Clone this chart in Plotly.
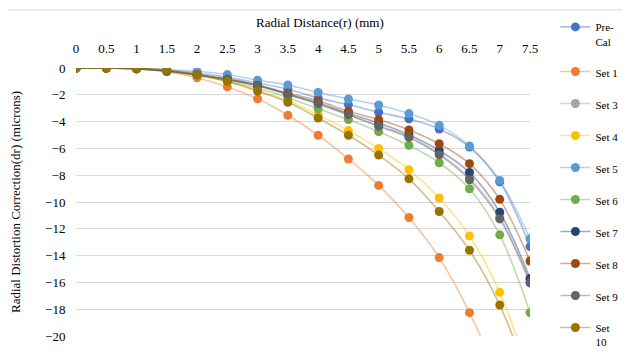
import plotly.graph_objects as go

radius = [0, 0.5, 1, 1.5, 2, 2.5, 3, 3.5, 4, 4.5, 5, 5.5, 6, 6.5, 7, 7.5]

series_names = ["Pre-<br>Cal", "Set 1", "Set 3", "Set 4", "Set 5", "Set 6",
                "Set 7", "Set 8", "Set 9", "Set<br>10"]

pre_cal = [0, 0, -0.05, -0.18, -0.38, -0.70, -1.12, -1.58, -2.23, -2.73, -3.30, -3.80, -4.55, -5.90, -8.50, -13.33]
set_1   = [0, 0, -0.06, -0.28, -0.73, -1.41, -2.30, -3.53, -5.02, -6.79, -8.76, -11.16, -14.15, -18.26, -23.5, -31.0]
set_3   = [0, 0, -0.06, -0.22, -0.50, -0.86, -1.32, -1.98, -2.70, -3.50, -4.30, -5.10, -6.40, -8.20, -11.10, -15.90]
set_4   = [0, 0, -0.07, -0.25, -0.55, -1.00, -1.65, -2.45, -3.50, -4.67, -6.00, -7.59, -9.70, -12.53, -16.74, -23.0]
set_5   = [0, 0, -0.03, -0.12, -0.24, -0.49, -0.91, -1.27, -1.83, -2.31, -2.76, -3.40, -4.28, -5.82, -8.39, -12.75]
set_6   = [0, 0, -0.07, -0.25, -0.55, -0.95, -1.50, -2.20, -3.05, -3.85, -4.75, -5.77, -7.07, -9.01, -12.45, -18.26]
set_7   = [0, 0, -0.06, -0.22, -0.50, -0.85, -1.30, -1.95, -2.60, -3.40, -4.10, -4.98, -6.15, -7.79, -10.76, -15.70]
set_8   = [0, 0, -0.05, -0.20, -0.48, -0.83, -1.28, -1.86, -2.45, -3.23, -3.85, -4.62, -5.65, -7.14, -9.80, -14.40]
set_9   = [0, 0, -0.06, -0.22, -0.50, -0.86, -1.29, -1.98, -2.66, -3.48, -4.35, -5.18, -6.47, -8.34, -11.26, -16.04]
set_10  = [0, 0, -0.02, -0.16, -0.49, -1.01, -1.73, -2.56, -3.73, -5.02, -6.50, -8.27, -10.71, -13.60, -17.69, -23.5]

x_ticks = [0, 0.5, 1, 1.5, 2, 2.5, 3, 3.5, 4, 4.5, 5, 5.5, 6, 6.5, 7, 7.5]
y_ticks = [0, -2, -4, -6, -8, -10, -12, -14, -16, -18, -20]

all_values = [pre_cal, set_1, set_3, set_4, set_5, set_6, set_7, set_8, set_9, set_10]
marker_colors = ["#4472C4", "#ED7D31", "#A5A5A5", "#FFC000", "#5B9BD5",
                 "#70AD47", "#264478", "#9E480E", "#636363", "#997300"]


def faded(hex_color, alpha=0.45):
    h = hex_color.lstrip("#")
    r, g, b = int(h[0:2], 16), int(h[2:4], 16), int(h[4:6], 16)
    return f"rgba({r},{g},{b},{alpha})"


fig = go.Figure()
for i, (name, vals, col) in enumerate(zip(series_names, all_values, marker_colors)):
    fig.add_trace(go.Scatter(
        x=radius, y=vals, name=name, mode="lines+markers",
        line=dict(color=faded(col), width=1.6, shape="spline", smoothing=1.0),
        marker=dict(color=col, size=9, line=dict(width=0)),
        legendgroup=f"g{i}",
    ))

serif = "Liberation Serif"

fig.update_layout(
    width=622, height=351,
    margin=dict(l=68, r=100, t=60, b=23, autoexpand=False),
    paper_bgcolor="white", plot_bgcolor="white",
    font=dict(family=serif, size=13, color="#000000"),
    showlegend=True,
    legend=dict(
        x=1.056, xanchor="left", yref="container", y=0.985, yanchor="top",
        maxheight=351,
        font=dict(family=serif, size=11, color="#000000"),
        tracegroupgap=13, valign="top",
        bgcolor="rgba(0,0,0,0)",
    ),
    xaxis=dict(
        range=[0, 7.5], side="top", tickvals=x_ticks,
        ticktext=[f"{v:g}" for v in x_ticks],
        showgrid=False, zeroline=False, showline=False, automargin=False,
        ticks="outside", ticklen=9, tickcolor="rgba(0,0,0,0)",
        tickfont=dict(family=serif, size=13),
    ),
    yaxis=dict(
        range=[-20, 0], tickvals=y_ticks,
        showgrid=True, gridcolor="#D9D9D9", gridwidth=1,
        zeroline=False, showline=False, automargin=True,
        ticks="outside", ticklen=7, tickcolor="rgba(0,0,0,0)",
        tickfont=dict(family=serif, size=13),
        title=dict(text="Radial Distortion Correction(dr) (microns)",
                   font=dict(family=serif, size=13), standoff=26),
    ),
    annotations=[dict(text="Radial Distance(r) (mm)", xref="paper", yref="paper",
                      x=0.537, y=1.1716, xanchor="center", yanchor="middle",
                      showarrow=False, font=dict(family=serif, size=13, color="#000000"))],
    shapes=[dict(type="rect", xref="paper", yref="paper",
                 x0=-0.1542, x1=1.4, y0=-0.3, y1=1.2164,
                 line=dict(color="#D9D9D9", width=1), fillcolor="rgba(0,0,0,0)",
                 layer="below")],
)

fig.write_html("out.html")
